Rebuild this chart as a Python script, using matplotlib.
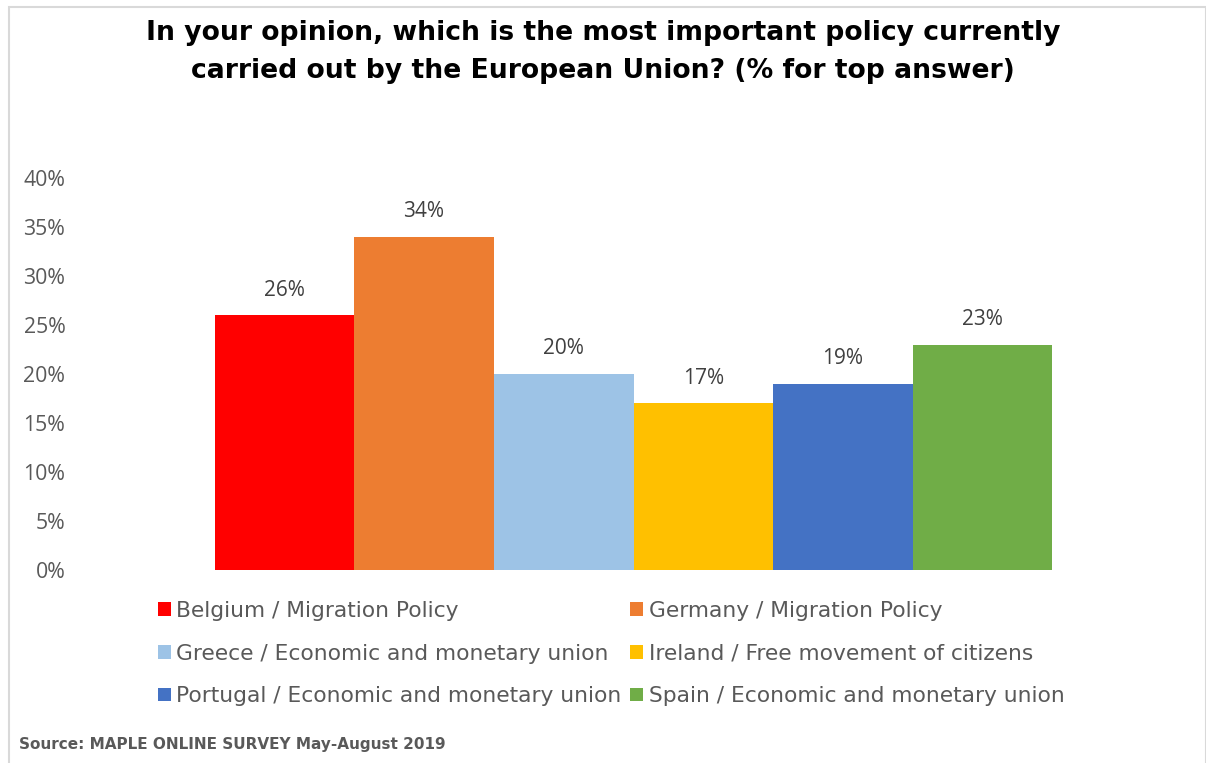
import matplotlib
matplotlib.use("Agg")
import matplotlib.pyplot as plt
from matplotlib.patches import Rectangle, Patch

# Survey results: top answer per country
countries = ["Belgium", "Germany", "Greece", "Ireland", "Portugal", "Spain"]
policies = ["Migration Policy", "Migration Policy", "Economic and monetary union",
            "Free movement of citizens", "Economic and monetary union",
            "Economic and monetary union"]
shares = [26, 34, 20, 17, 19, 23]
colors = ["#FF0000", "#ED7D31", "#9DC3E6", "#FFC000", "#4472C4", "#70AD47"]
y_ticks = [0, 5, 10, 15, 20, 25, 30, 35, 40]

W, H = 1206, 763
fig = plt.figure(figsize=(W / 100, H / 100), dpi=100)
fig.patch.set_facecolor("white")

# light chart-area border
fig.add_artist(Rectangle((8.5 / W, -0.05), (1205.5 - 8.5) / W, 1.05 - 7.5 / H,
                         transform=fig.transFigure, fill=False,
                         edgecolor="#D9D9D9", linewidth=1.5))

ax = fig.add_axes([75 / W, 1 - 570 / H, (1192 - 75) / W, 392 / H])
positions = list(range(len(shares)))
bars = ax.bar(positions, shares, width=1.0, color=colors, linewidth=0)

ax.set_xlim(-1.5, 6.5)
ax.set_ylim(0, 40)
ax.set_yticks(y_ticks)
ax.set_yticklabels([f"{t}%" for t in y_ticks], fontsize=15.3, color="#595959",
                   family="Open Sans")
ax.tick_params(axis="y", length=0, pad=7)
ax.set_xticks([])
for s in ax.spines.values():
    s.set_visible(False)

for b, v in zip(bars, shares):
    ax.annotate(f"{v}%", (b.get_x() + b.get_width() / 2, v),
                xytext=(0, 10.5), textcoords="offset points",
                ha="center", va="bottom", fontsize=15, color="#404040",
                family="Open Sans")

fig.text(0.5, 1 - 52 / H,
         "In your opinion, which is the most important policy currently\n"
         "carried out by the European Union? (% for top answer)",
         ha="center", va="center", fontsize=19.2, fontweight="bold",
         color="black", linespacing=1.58)

handles = [Patch(facecolor=c, edgecolor="none") for c in colors]
labels = [f"{c} / {p}" for c, p in zip(countries, policies)]
# row-major order for a two-column legend
order = [0, 2, 4, 1, 3, 5]
fig.legend([handles[i] for i in order], [labels[i] for i in order],
           ncol=2, loc="upper left", bbox_to_anchor=(147 / W, 1 - 590 / H),
           frameon=False, fontsize=15.7, labelcolor="#595959",
           handlelength=0.6, handleheight=0.6, handletextpad=0.25,
           columnspacing=0.4, labelspacing=1.04, borderpad=0)

fig.text(19 / W, 1 - 745 / H, "Source: MAPLE ONLINE SURVEY May-August 2019",
         ha="left", va="center", fontsize=11, fontweight="bold",
         color="#595959")

fig.savefig("out.png", dpi=100, facecolor="white")
